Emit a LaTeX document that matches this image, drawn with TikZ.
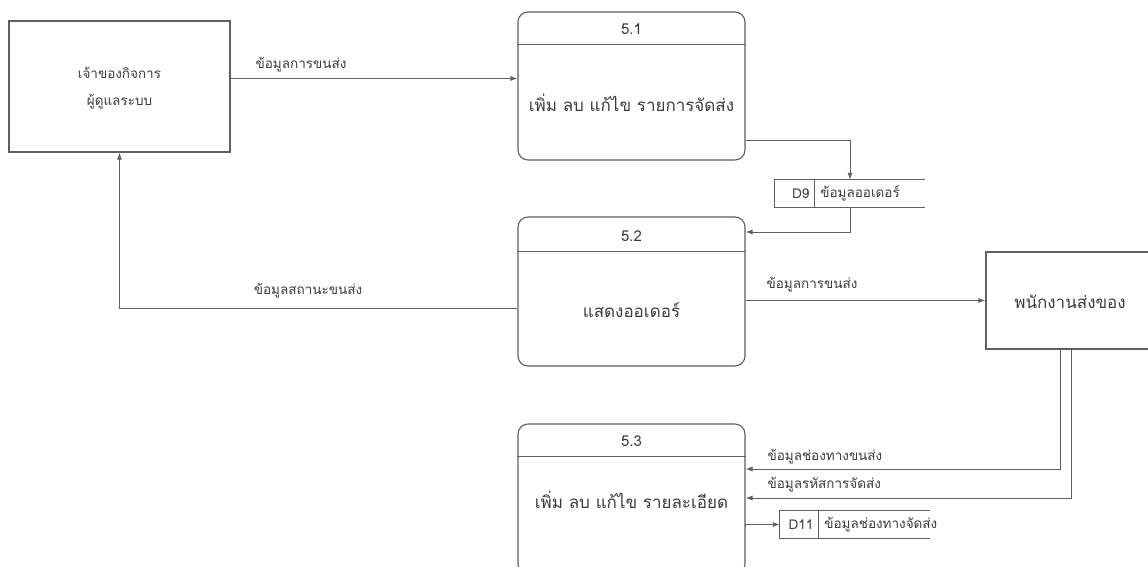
\documentclass[tikz,border=0pt]{standalone}
\usepackage{fontspec}
\setmainfont[Script=Thai]{Loma}
\usetikzlibrary{arrows.meta}
\definecolor{linegray}{RGB}{95,95,95}
\definecolor{textgray}{RGB}{60,60,60}
\begin{document}
\begin{tikzpicture}[x=1pt,y=-1pt,
    every node/.style={text=textgray},
    ent/.style={draw=linegray,line width=1.1pt,minimum width=#1},
    proc/.style={draw=linegray,line width=1.1pt,rounded corners=10pt,minimum width=227pt},
    store/.style={minimum width=150pt,minimum height=27pt},
    flow/.style={draw=linegray,line width=0.9pt,-{Latex[length=7pt,width=5pt]}},
    lbl/.style={font=\fontsize{13.5}{15}\selectfont},
    big/.style={font=\fontsize{17}{20}\selectfont},
    num/.style={font=\fontsize{15}{17}\selectfont}]
  \useasboundingbox (0,0) rectangle (1148,566);
  \clip (0,0) rectangle (1148,566);
  \fill[white] (0,0) rectangle (1148,566);
  \draw
    (119.5,86.5) node[ent=221pt,minimum height=131pt] (own){}
    (1090,300.5) node[ent=208pt,minimum height=97pt] (emp){}
    (631.5,86) node[proc,minimum height=148pt] (p1){}
    (631.5,291.5) node[proc,minimum height=149pt] (p2){}
    (631.5,499) node[proc,minimum height=150pt] (p3){}
    (850,193.5) node[store] (d9){}
    (855,524.5) node[store] (d11){};
  \node[align=center,font=\fontsize{13.5}{27}\selectfont] at (119.5,88) {เจ้าของกิจการ\\ผู้ดูแลระบบ};
  \node[big] at (1070,302) {พนักงานส่งของ};
  \begin{scope}[draw=linegray,line width=1.1pt]
    \draw ([yshift=-33pt]p1.north west) -- ([yshift=-33pt]p1.north east);
    \draw ([yshift=-35pt]p2.north west) -- ([yshift=-35pt]p2.north east);
    \draw ([yshift=-33pt]p3.north west) -- ([yshift=-33pt]p3.north east);
  \end{scope}
  \node[num] at (631.5,29) {5.1};
  \node[num] at (631.5,236) {5.2};
  \node[num] at (631.5,441) {5.3};
  \node[big] at (631.5,103) {เพิ่ม ลบ แก้ไข รายการจัดส่ง};
  \node[big] at (631.5,310) {แสดงออเดอร์};
  \node[big] at (631.5,500) {เพิ่ม ลบ แก้ไข รายละเอียด};
  \begin{scope}[draw=linegray,line width=0.9pt]
    \draw (d9.north east) -- (d9.north west) -- (d9.south west) -- (d9.south east);
    \draw ([xshift=40pt]d9.north west) -- ([xshift=40pt]d9.south west);
    \draw (d11.north east) -- (d11.north west) -- (d11.south west) -- (d11.south east);
    \draw ([xshift=39pt]d11.north west) -- ([xshift=39pt]d11.south west);
  \end{scope}
  \node[lbl,anchor=east] at ([xshift=38pt]d9.west) {D9};
  \node[lbl,anchor=west] at ([xshift=42pt]d9.west) {ข้อมูลออเดอร์};
  \node[lbl,anchor=east] at ([xshift=37pt]d11.west) {D11};
  \node[lbl,anchor=west] at ([xshift=41pt]d11.west) {ข้อมูลช่องทางจัดส่ง};
  \draw[flow] ([yshift=8pt]own.east) -- ([yshift=8pt]own.east -| p1.west);
  \draw[flow] ([yshift=-54pt]p1.east) -| (d9.north);
  \draw[flow] (d9.south) |- ([yshift=59.5pt]p2.east);
  \draw[flow] ([yshift=-16.5pt]p2.west) -| (own.south);
  \draw[flow] (p2.east |- emp.west) -- (emp.west);
  \draw[flow] ([xshift=-30pt]emp.south) |- ([yshift=30pt]p3.east);
  \draw[flow] ([xshift=-19pt]emp.south) |- ([yshift=1pt]p3.east);
  \draw[flow] ([yshift=-28pt]p3.east) -- (p3.east |- d11.west) -- (d11.west);
  \node[lbl] at (301,65) {ข้อมูลการขนส่ง};
  \node[lbl] at (308,291) {ข้อมูลสถานะขนส่ง};
  \node[lbl] at (812,285) {ข้อมูลการขนส่ง};
  \node[lbl,anchor=west] at (764,457) {ข้อมูลช่องทางขนส่ง};
  \node[lbl,anchor=west] at (764,485) {ข้อมูลรหัสการจัดส่ง};
\end{tikzpicture}
\end{document}
